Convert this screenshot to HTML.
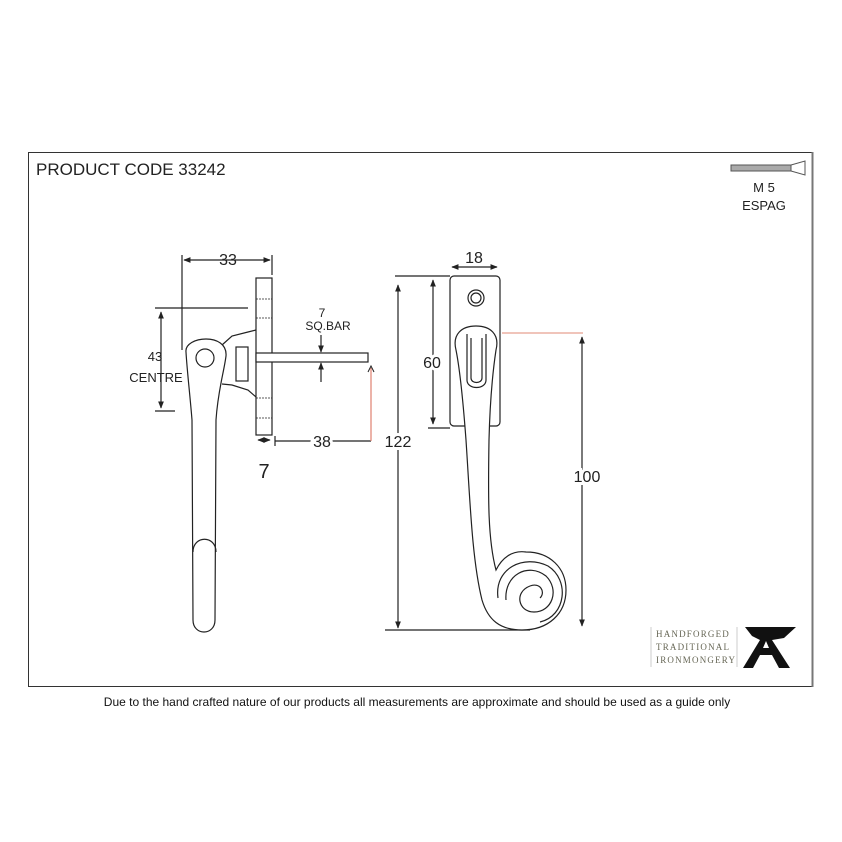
<!DOCTYPE html>
<html><head><meta charset="utf-8"><style>
body{margin:0;background:#fff;width:842px;height:842px;overflow:hidden}
svg{display:block}
text{font-family:"Liberation Sans",sans-serif;fill:#222}
</style></head><body>
<svg width="842" height="842" viewBox="0 0 842 842" xmlns="http://www.w3.org/2000/svg">
<defs>
<marker id="a" viewBox="0 0 10 10" refX="9" refY="5" markerWidth="6" markerHeight="6" orient="auto-start-reverse"><path d="M0,1 L10,5 L0,9 z" fill="#222"/></marker>
</defs>
<rect x="28.5" y="152.5" width="784" height="534" fill="none" stroke="#333" stroke-width="1"/>
<line x1="812.5" y1="152" x2="812.5" y2="687" stroke="#777" stroke-width="2"/>
<text x="36" y="175" font-size="17">PRODUCT CODE 33242</text>
<!-- screw -->
<rect x="731" y="165" width="60" height="6" fill="#aaa" stroke="#555" stroke-width="1"/>
<path d="M791,165 L805,161 L805,175 L791,171" fill="none" stroke="#555"/>
<text x="764" y="192" font-size="13" text-anchor="middle">M 5</text>
<text x="764" y="210" font-size="13" text-anchor="middle">ESPAG</text>
<g stroke="#222" fill="none" stroke-width="1.2">
<!-- left view -->
<line x1="184" y1="260" x2="270" y2="260" marker-start="url(#a)" marker-end="url(#a)"/>
<line x1="182" y1="255" x2="182" y2="350"/>
<line x1="272" y1="255" x2="272" y2="275"/>
<rect x="256" y="278" width="16" height="157" fill="#fff"/>
<g stroke-dasharray="2,1" stroke-width="0.8"><line x1="256" y1="299" x2="272" y2="299"/><line x1="256" y1="318" x2="272" y2="318"/><line x1="256" y1="398" x2="272" y2="398"/><line x1="256" y1="418" x2="272" y2="418"/></g>
<line x1="155" y1="308" x2="248" y2="308"/>
<line x1="161" y1="312" x2="161" y2="408" marker-start="url(#a)" marker-end="url(#a)"/>
<line x1="155" y1="411" x2="175" y2="411"/>
<path d="M222,345 L232,336 L248,332 L256,330 M222,384 L232,385 L248,390 L256,397"/>
<rect x="236" y="347" width="12" height="34"/>
<path d="M186,352 C184,336 228,332 226,356 C224,372 218,390 216,420 L215,620 C215,636 193,636 193,620 L192,420 C190,395 187,370 186,352 Z" fill="#fff"/>
<circle cx="205" cy="358" r="9"/>
<path d="M193,552 C193,535 216,535 216,552"/>
<rect x="256" y="353" width="112" height="9" fill="#fff"/>
<line x1="321" y1="335" x2="321" y2="352" marker-end="url(#a)"/>
<line x1="321" y1="382" x2="321" y2="363" marker-end="url(#a)"/>
<line x1="275" y1="441" x2="371" y2="441"/>
<line x1="275" y1="436" x2="275" y2="446"/>
<line x1="371" y1="368" x2="371" y2="441" stroke="#e08070"/>
<path d="M368,372 L371,366 L374,372" stroke-width="1"/>
<line x1="258" y1="440" x2="270" y2="440" marker-start="url(#a)" marker-end="url(#a)"/>
<!-- right view -->
<line x1="452" y1="267" x2="497" y2="267" marker-start="url(#a)" marker-end="url(#a)"/>
<rect x="450" y="276" width="50" height="150" rx="4" fill="#fff"/>
<circle cx="476" cy="298" r="8"/><circle cx="476" cy="298" r="5"/>
<line x1="395" y1="276" x2="450" y2="276"/>
<line x1="433" y1="280" x2="433" y2="424" marker-start="url(#a)" marker-end="url(#a)"/>
<line x1="428" y1="428" x2="450" y2="428"/>
<line x1="398" y1="285" x2="398" y2="628" marker-start="url(#a)" marker-end="url(#a)"/>
<line x1="385" y1="630" x2="530" y2="630"/>
<line x1="502" y1="333" x2="583" y2="333" stroke="#e8a090"/>
<line x1="582" y1="337" x2="582" y2="626" marker-start="url(#a)" marker-end="url(#a)"/>
<path d="M456,350 C452,334 462,326 476,326 C490,326 500,334 496,350 C493,370 490,400 489,440 C488,500 488,540 496,570 C502,558 512,550 526,552 C550,552 566,568 566,590 C566,614 548,630 522,630 C500,630 488,620 482,600 C472,560 470,500 466,440 C463,400 460,370 456,350 Z" fill="#fff"/>
<path d="M467,334 L467,380 C467,390 486,390 486,380 L486,334"/>
<path d="M471,338 L471,378 C471,384 482,384 482,378 L482,338"/>
<path d="M506,600 C504,575 528,562 546,576 C560,590 552,612 534,612 C518,612 514,592 530,586 C540,582 546,592 540,598"/>
<path d="M498,598 C494,568 524,554 548,566 C570,580 566,616 540,622"/>
</g>
<text x="322" y="317" font-size="12" text-anchor="middle">7</text>
<text x="328" y="330" font-size="12" text-anchor="middle">SQ.BAR</text>
<text x="228" y="265" font-size="16" text-anchor="middle">33</text>
<text x="155" y="361" font-size="13" text-anchor="middle">43</text>
<text x="156" y="382" font-size="13" text-anchor="middle">CENTRE</text>
<text x="322" y="447" font-size="16" text-anchor="middle" style="paint-order:stroke" stroke="#fff" stroke-width="6">38</text>
<text x="264" y="478" font-size="20" text-anchor="middle">7</text>
<text x="474" y="263" font-size="16" text-anchor="middle">18</text>
<text x="432" y="368" font-size="16" text-anchor="middle" style="paint-order:stroke" stroke="#fff" stroke-width="6">60</text>
<text x="398" y="447" font-size="16" text-anchor="middle" style="paint-order:stroke" stroke="#fff" stroke-width="6">122</text>
<text x="587" y="482" font-size="16" text-anchor="middle" style="paint-order:stroke" stroke="#fff" stroke-width="6">100</text>
<!-- logo -->
<line x1="651" y1="627" x2="651" y2="667" stroke="#ccc"/>
<line x1="737" y1="627" x2="737" y2="667" stroke="#ccc"/>
<g font-family="Liberation Serif,serif" font-size="9" fill="#555" letter-spacing="1.2">
<text x="656" y="637" style="font-family:'Liberation Serif',serif;fill:#665">HANDFORGED</text>
<text x="656" y="650" style="font-family:'Liberation Serif',serif;fill:#665">TRADITIONAL</text>
<text x="656" y="663" style="font-family:'Liberation Serif',serif;fill:#665">IRONMONGERY</text>
</g>
<path d="M745,627 L796,627 L784,638 L772,640 L790,668 L779,668 L772,655 L760,655 L753,668 L743,668 L760,640 L752,636 Z M763,648 L769,648 L766,641 Z" fill="#111" fill-rule="evenodd"/>
<text x="417" y="706" font-size="12" text-anchor="middle" style="fill:#111">Due to the hand crafted nature of our products all measurements are approximate and should be used as a guide only</text>
</svg>
</body></html>
